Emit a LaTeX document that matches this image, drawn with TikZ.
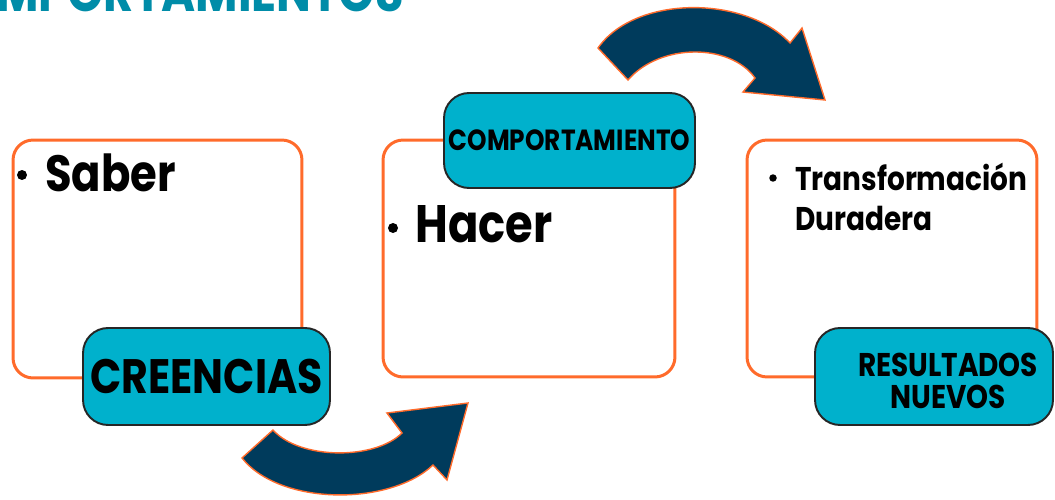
\documentclass[tikz,border=0pt]{standalone}
\usepackage{fontspec}
\setmainfont{Poppins}[FakeStretch=0.85]
\definecolor{arrowblue}{HTML}{003B5C}
\definecolor{boxorange}{HTML}{FF6B2B}
\definecolor{tealfill}{HTML}{00B1CC}
\definecolor{titleteal}{HTML}{008CA8}
\begin{document}
\begin{tikzpicture}[x=0.02cm,y=-0.02cm,
    panel/.style={draw=boxorange,line width=1.7pt,rounded corners=0.4cm,fill=white,inner sep=0pt},
    tag/.style={draw=black!85,line width=1.1pt,fill=tealfill,rounded corners=0.5cm,inner sep=0pt,align=center},
    bigarrow/.style={fill=arrowblue,draw=boxorange,line width=0.8pt}]
    \useasboundingbox (0,0) rectangle (1055,500);
    \clip (0,0) rectangle (1055,500);

    % Title (cut at the top)
    \node[anchor=base east,text=titleteal,font=\fontsize{31}{36}\selectfont\bfseries] (title) at (410,12) {COMPORTAMIENTOS};

    % Saber
    \node[panel,minimum width=5.78cm,minimum height=4.76cm] (saberbox) at (157.5,259) {};
    \fill (22,175) circle (0.1cm);
    \node[anchor=base west,inner sep=0pt,font=\fontsize{29}{36}\selectfont\bfseries] (saber) at (45,192) {Saber};
    \node[tag,minimum width=4.94cm,minimum height=1.94cm,font=\fontsize{27.5}{32}\selectfont\bfseries] (creencias) at (206.5,376.5) {CREENCIAS};

    % Hacer
    \node[panel,minimum width=5.84cm,minimum height=4.74cm] (hacerbox) at (529,258.5) {};
    \fill (393,228) circle (0.1cm);
    \node[anchor=base west,inner sep=0pt,font=\fontsize{30}{36}\selectfont\bfseries] (hacer) at (415,242) {Hacer};
    \node[tag,minimum width=5.02cm,minimum height=1.9cm,font=\fontsize{16.6}{20}\selectfont\bfseries] (comportamiento) at (569.5,140.5) {COMPORTAMIENTO};

    % Transformacion duradera
    \node[panel,minimum width=5.8cm,minimum height=4.74cm] (transfbox) at (892,258.5) {};
    \fill (773,178) circle (0.075cm);
    \node[anchor=north west,inner sep=0pt,align=left,font=\fontsize{18.7}{22.8}\selectfont\bfseries] (transf) at (795,163) {Transformación\\Duradera};
    \node[tag,minimum width=4.76cm,minimum height=1.94cm] (resultados) at (934,376.5) {};
    \node[align=center,inner sep=0pt,font=\fontsize{18.7}{18.2}\selectfont\bfseries] (resultadostxt) at (948,381) {RESULTADOS\\NUEVOS};

    % Arrows
    \draw[bigarrow] (242,458) .. controls (280,506) and (390,506) .. (433,465) -- (447,480) -- (468,403) -- (387,413) -- (402,433) .. controls (375,460) and (300,460) .. (273,430) -- cycle;
    \draw[bigarrow] (598,48) .. controls (635,-5) and (745,-5) .. (790,43) -- (802,28) -- (825,100) -- (743,92) -- (755,78) .. controls (730,43) and (660,43) .. (628,80) -- cycle;
\end{tikzpicture}
\end{document}
